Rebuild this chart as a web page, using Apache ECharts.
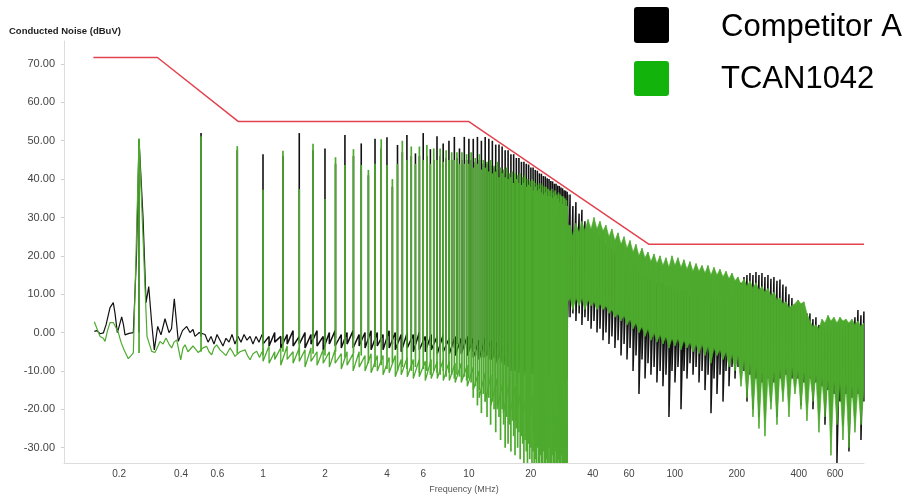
<!DOCTYPE html>
<html>
<head>
<meta charset="utf-8">
<script src="https://cdn.jsdelivr.net/npm/echarts@6/dist/echarts.min.js"></script>
<style>html,body{margin:0;padding:0;background:#fff}#c{width:908px;height:496px}</style>
</head>
<body>
<div id="c"></div>
<script>
// ---------- axis ticks ----------
const xTickValues = [0.2, 0.4, 0.6, 1, 2, 4, 6, 10, 20, 40, 60, 100, 200, 400, 600];
const yTickValues = [-30, -20, -10, 0, 10, 20, 30, 40, 50, 60, 70];

// ---------- limit line (red) ----------
const limitMHz = [0.15, 0.307, 0.76, 10, 75, 830];
const limitDb  = [71.7, 71.7, 55, 55, 23, 23];

// ---------- low-frequency noise floor (0.15 - 1 MHz) ----------
const compLowMHz = [0.1516,0.1562,0.1616,0.1677,0.1728,0.1807,0.1874,0.1911,0.1961,0.1998,
  0.2059,0.2101,0.2137,0.2235,0.2345,0.2430,0.25,0.2614,0.2703,0.2786,
  0.2874,0.2965,0.3080,0.3196,0.3342,0.3495,0.3594,0.3708,0.3878,0.4064,
  0.4260,0.4418,0.4571,0.4674,0.4905,0.523,0.541,0.559,0.578,0.598,
  0.618,0.639,0.661,0.684,0.707,0.731,0.756,0.782,0.809,0.836,
  0.865,0.894,0.925,0.956,0.989];
const compLowDb = [0.3,0.5,-0.3,-0.1,2,6.5,7.8,5,0,1.5,
  4.1,2,-0.6,-0.2,0,20,50.3,30,7.8,12,
  3,-4.5,1.6,-0.6,3.6,0,1,8.8,-2.3,0.5,
  1.6,0,0.8,-1,0,-0.5,-2.5,-1,-3,-0.5,
  -2,-3.5,-1.5,-2.5,-0.5,-3,-1,-2.5,-0.5,-2,
  -1,-3,-1,-2.5,-0.5];
const tcanLowMHz = [0.1516,0.1562,0.1616,0.1677,0.1709,0.1757,0.1807,0.1874,0.1921,0.1983,
  0.2043,0.2113,0.2217,0.2285,0.2345,0.2402,0.25,0.2733,0.2880,0.2988,
  0.3161,0.3268,0.3380,0.3495,0.3602,0.3696,0.3809,0.3984,0.4088,0.4180,
  0.4322,0.4418,0.4571,0.4674,0.4850,0.5112,0.5328,0.5467,0.5634,0.5781,
  0.5957,0.6183,0.6415,0.6612,0.6914,0.7110,0.7311,0.7730,0.8178,0.8408,
  0.8649,0.8941,0.9320,0.9616,0.9888];
const tcanLowDb = [2.8,1,-1,-1.5,-2.3,0.5,2.6,2.6,1.5,0,
  -2.5,-4.5,-6.8,-6,-5.3,15,50.5,-1,-4.9,-5.2,
  -2.3,-3,-1.4,-3,-4,-2.5,-1.9,-7.1,-4,-3.2,
  -5,-4.7,-3.5,-4,-5.2,-4,-3.6,-5,-5.8,-4,
  -3.2,-4.5,-5.3,-6,-4,-5,-6.2,-5,-4.5,-6,
  -7.1,-5.5,-4.9,-6.5,-5];

// ---------- harmonic spikes (250 kHz steps, n = 1..120) ----------
const harmonicMHz = [0.25,0.5,0.75,1,1.25,1.5,1.75,2,2.25,2.5,
  2.75,3,3.25,3.5,3.75,4,4.25,4.5,4.75,5,
  5.25,5.5,5.75,6,6.25,6.5,6.75,7,7.25,7.5,
  7.75,8,8.25,8.5,8.75,9,9.25,9.5,9.75,10,
  10.25,10.5,10.75,11,11.25,11.5,11.75,12,12.25,12.5,
  12.75,13,13.25,13.5,13.75,14,14.25,14.5,14.75,15,
  15.25,15.5,15.75,16,16.25,16.5,16.75,17,17.25,17.5,
  17.75,18,18.25,18.5,18.75,19,19.25,19.5,19.75,20,
  20.25,20.5,20.75,21,21.25,21.5,21.75,22,22.25,22.5,
  22.75,23,23.25,23.5,23.75,24,24.25,24.5,24.75,25,
  25.25,25.5,25.75,26,26.25,26.5,26.75,27,27.25,27.5,
  27.75,28,28.25,28.5,28.75,29,29.25,29.5,29.75,30];
const tcanPeak = [50.5,51.2,48.6,37.2,47.4,37.4,49.2,34.8,45.7,43.7,
  47.8,43.7,42.4,44,50.4,43.7,40,44,50,45,
  48.5,44,48.5,45,48.9,44,48,45,48,44.5,
  47.5,45,47,45,47,44,47,44,46.5,44,
  47,43,45.5,44,46.5,42.5,45,43,44.5,42,
  45,41.5,43.5,42,44.5,40.5,43,41.5,42.5,40.5,
  43,40,41.5,40.5,42,39,41.5,40,41,39,
  41.5,38.5,40.5,39,41,38,40,38.5,39.5,38,
  40,37,39.5,38,39,37,38.5,37.5,39,36.5,
  38.5,36,38,36.5,38,35.5,37.5,36,37,35.5,
  37.5,35,36.5,35.5,37,34.5,36,35,36.5,34,
  36,34.5,35.5,33.5,35.5,34,35,33,34.5,33];
const tcanBase = [-5.3,-5,-5.5,-6,-5,-6,-5.5,-6,-5,-6.5,
  -5.5,-6,-8,-9,-8.5,-9.5,-8,-10,-9,-9.5,
  -10,-9,-10.5,-9.5,-10,-11,-10,-10.5,-11,-10,
  -11.5,-10.5,-11,-12,-11,-11.5,-12,-11.5,-12.5,-12,
  -13,-17,-14,-19,-15,-21,-16,-18,-22,-17,
  -24,-18,-20,-26,-19,-22,-28,-20,-24,-30,
  -22,-29,-24,-31,-23,-27,-32,-25,-30,-26,
  -33,-27,-29,-34,-28,-31,-34,-29,-33,-30,
  -34,-31,-34,-33,-34,-30,-34,-34,-32,-34,
  -34,-31,-34,-34,-33,-34,-34,-30,-34,-34,
  -34,-32,-34,-34,-31,-34,-34,-34,-33,-34,
  -34,-34,-32,-34,-34,-34,-34,-34,-34,-34];
const compPeak = [50.3,52,47.5,46.5,46,52,47.5,48,44,51.5,
  46,49.3,41,50.5,48,50.9,38,48.9,47,51.5,
  46,46.7,46,52,46,47.8,45,51.2,46,49.3,
  45.5,50,45,51,45.5,48,45,51,45,50.5,
  45,50.5,44.5,51,45,50,44,51,44,50.5,
  43.5,50,43,49,42.5,49,42,48.5,41.5,47.5,
  41,47.5,40.5,46.5,40,46.5,39.5,45.5,39,45.5,
  38.5,44.5,38,44.5,37.5,44,37,43.8,36.5,43,
  36,43,35.5,42.4,35,42.2,34.5,41.5,34,41.4,
  34,40.8,33.5,40.7,33,40.2,33,40,32.5,39.5,
  32.5,39.4,32,38.8,32,38.8,31.5,38.3,31.5,38.2,
  31,37.8,31,37.6,30.5,37.1,30.5,37,30,36.7];
const compBase = [0,-1,-1.5,-1,-2,-1.5,-1,-2,-1.5,-2,
  -1.5,-2.5,-2,-1.5,-2.5,-2,-3,-2,-2.5,-3,
  -2,-3,-2.5,-3,-2,-3.5,-2.5,-3,-3.5,-2.5,
  -3,-3.5,-3,-4,-3,-3.5,-4,-3.5,-4,-4.5,
  -4,-5,-4.5,-6,-5,-5.5,-6.5,-5,-6,-7,
  -6,-7,-6.5,-8,-7,-6.5,-8,-7.5,-7,-8.5,
  -8,-9,-8.5,-10,-9,-8.5,-10,-9.5,-9,-10.5,
  -9,-10,-9.5,-11,-10,-9.5,-11,-10.5,-10,-11,
  -10,-11,-10.5,-12,-11,-10.5,-12,-11.5,-11,-12,
  -11,-12,-11.5,-12,-11,-12.5,-12,-11.5,-12,-12.5,
  -12,-12.5,-12,-13,-12,-12.5,-13,-12,-12.5,-13,
  -12,-13,-12.5,-13,-12,-13,-12.5,-13,-12,-12];

// ---------- noise bands (1 - 830 MHz): upper / lower edge ----------
const bandMHz = [1.00,1.07,1.14,1.22,1.31,1.40,1.50,1.60,1.71,1.83,
  1.96,2.10,2.24,2.40,2.56,2.74,2.93,3.13,3.35,3.59,
  3.83,4.10,4.39,4.69,5.02,5.37,5.74,6.14,6.56,7.02,
  7.51,8.03,8.58,9.18,9.82,10.5,11.2,12.0,12.8,13.7,
  14.7,15.7,16.8,18.0,19.2,20.5,22.0,23.5,25.1,26.9,
  28.7,30.0,30.2,
  31.0,32.0,33.1,34.3,35.4,36.6,37.9,39.2,40.5,41.9,
  43.3,44.8,46.3,47.9,49.5,51.2,53.0,54.8,56.7,58.6,
  60.6,62.7,64.8,67.0,69.3,71.7,74.1,76.6,79.3,81.9,
  84.8,87.6,90.6,93.7,96.9,100.2,103.6,107.2,110.8,114.6,
  118.5,122.6,126.8,131.1,135.6,140.2,145.0,149.9,155.0,160.3,
  165.8,171.5,177.3,183.4,189.6,196.1,202.8,209.7,216.8,224.2,
  231.9,239.8,248.0,256.4,265.2,274.2,283.6,293.2,303.2,313.6,
  324.3,335.3,346.8,358.6,370.8,383.5,396.6,410.1,424.1,438.5,
  453.5,469.0,485.0,501.5,518.6,536.3,554.6,573.5,593.1,613.3,
  634.2,655.9,678.3,701.4,725.4,750.1,775.7,802.2,829];
const tcanHi = [-4,-3.5,-5,-4,-3.5,-5,-4,-4.5,-4,-5,
  -4.5,-5,-4.5,-5.5,-5,-5.5,-5,-6,-5.5,-6,
  -6,-6.5,-6,-7,-6.5,-7,-7,-7.5,-7,-7.5,
  -7,-7.5,-8,-8,-8.5,-9,-10,-10.5,-11,-12,
  -12.5,-13,-14,-14.5,-15,-16,-16.5,-17,-18,-18,
  -18,-18,28,
  28,25,28.5,26,29,26.5,29.5,27,30,27,
  29,26.5,28,25,27,24,26,23,25,22,
  24,21,23,20,22,19.5,21,18.5,20.5,18,
  20,17.5,19.5,17,20,17.5,19.5,17,19,16.5,
  18.5,16,18,16,17.5,15.5,17.5,15,17,15,
  16.5,14.5,16,14,15.5,13.5,14.5,12.5,14,12,
  13.5,11.5,13,11,12,10.5,11.5,9.5,10.5,8.5,
  9,7.5,8,6.5,7,7.5,8.5,7.5,8,5,
  3,1.5,2,1,3.5,2.5,4.5,3,4,2.5,
  4,3,3.5,2.5,3.5,2,3,1.5,2.5];
const tcanLo = [-7.5,-8,-7,-8.5,-7,-8,-7.5,-9,-7.5,-8.5,
  -8,-9,-8,-9.5,-8.5,-10,-9,-10,-10.5,-10,
  -11,-10.5,-11.5,-11,-11.5,-12,-11.5,-12.5,-12,-12,
  -12.5,-12.5,-13,-13,-14,-15,-17,-18,-19,-20,
  -21,-22,-23,-24,-25,-26,-27,-28,-30,-34,
  -34,-34,8,
  9,6,9,7,9,6,8.5,7,8,6,
  7.5,6,7,5,6,4,5,3,4.5,2,
  3.5,1,2.5,0,1.5,-1,1,-2,0,-2.5,
  -0.5,-3,-1,-4,-1.5,-3.5,-1.5,-4.5,-2,-4,
  -2.5,-5,-3,-5.5,-3,-6,-3.5,-8,-4,-6,
  -4.5,-7,-5,-9,-5.5,-10,-6,-14,-7,-17,
  -8,-22,-9,-25,-10,-27,-11,-20,-10,-24,
  -9.5,-18,-9,-22,-9,-16,-10,-20,-10,-23,
  -11,-18,-11,-26,-12,-22,-12,-32,-12.5,-24,
  -13,-28,-13,-30,-14,-26,-14,-24,-15];
const compHi = [-0.5,-1,0,-1,-0.5,0.5,-1,0,-0.5,0.5,
  -1,0,0.5,-0.5,0,0.5,-0.5,0,0.5,0,
  -0.5,0.5,0,-0.5,0,-0.5,0,-1,-0.5,-1,
  -0.5,-1.5,-1,-1.5,-1,-1.5,-2,-1.5,-2,-2.5,
  -3,-3,-3.5,-4,-4,-5,-5,-5.5,-6,-6,
  -6,-6,36,
  36,33,34,31,32,29,28,27,26,25,
  25,24,23,22,22,21,20,19,19,18,
  17,17,16,16,15,15,14,14,14,13,
  13,13,12,12,12,12,11,11,11,11,
  10,10,10,10,10,10,9,9,9,9,
  9,9,9,9,9,9,10,13,14.5,15,
  15.5,15,15.8,15,15.5,14.5,15,14,14.5,13.5,
  13.8,12.5,12,10,9,7,6,6,5.5,5,
  5,3.5,4,2,1.5,1,2,1,2,1.5,
  2,1,2,2.5,3,4,5.9,4.5,5.5];
const compLo = [-3,-3.5,-2.5,-4,-3,-3.5,-3,-4,-3,-3.5,
  -4.5,-3,-3.5,-4,-3,-4,-3.5,-4,-4.5,-3.5,
  -4.5,-4,-4.5,-5,-4,-5,-4.5,-5,-4.5,-5.5,
  -5,-5.5,-6,-5.5,-6,-6.5,-7,-6.5,-7,-7.5,
  -8,-8,-9,-9,-10,-10,-11,-11,-12,-12,
  -12,-12,4,
  4,5,3,5,2,4,3,1,3,0,
  1,-2,0,-3,-1,-4,-2,-6,-3,-7,
  -4,-10,-6,-16,-7,-12,-8,-11,-9,-13,
  -10,-14,-11,-22,-10,-13,-9,-20,-10,-12,
  -8,-11,-9,-13,-10,-15,-11,-21,-12,-16,
  -11,-18,-10,-14,-9,-12,-9,-12,-10,-18,
  -11,-20,-12,-22,-13,-20,-12,-18,-13,-22,
  -12,-15,-11,-17,-12,-14,-12,-19,-13,-16,
  -12,-20,-13,-17,-14,-24,-15,-22,-16,-34,
  -18,-24,-16,-31,-17,-22,-16,-28,-18];

// ---------- colours ----------
const GREEN = '#4daa2e';
const BLACK = '#111111';
const RED = '#e2434f';
const FONT = '"Liberation Sans", Arial, sans-serif';

function zip(a, b) { return a.map((v, i) => [v, b[i]]); }

function floorSeries(name, f, v, color, z) {
  return { type: 'line', name, data: zip(f, v), showSymbol: false, symbol: 'none',
    lineStyle: { color, width: 1.2 }, itemStyle: { color }, silent: true, z };
}
// noise band drawn as a dense up/down trace between its upper and lower edge
function traceSeries(name, hi, lo, color, width, fromMHz, toMHz, z) {
  const data = [];
  bandMHz.forEach((f, i) => {
    if (f >= fromMHz && f <= toMHz) { data.push([f, hi[i]]); data.push([f, lo[i]]); }
  });
  return { type: 'line', name, data, showSymbol: false, symbol: 'none',
    lineStyle: { color, width }, itemStyle: { color }, silent: true, z };
}
function spikeSeries(name, peaks, bases, color, width, z) {
  const data = harmonicMHz.map((f, i) => [f, bases[i], peaks[i]]);
  return { type: 'custom', name, data, clip: true, silent: true, z,
    encode: { x: 0, y: [1, 2] },
    renderItem: (p, api) => {
      const a = api.coord([api.value(0), api.value(1)]);
      const b = api.coord([api.value(0), api.value(2)]);
      return { type: 'line', shape: { x1: a[0], y1: a[1], x2: b[0], y2: b[1] },
        style: { stroke: color, lineWidth: width } };
    } };
}
function bandSeries(name, hi, lo, color, fromMHz, z) {
  const data = [];
  for (let i = 0; i < bandMHz.length - 1; i++) {
    if (bandMHz[i] < fromMHz) continue;
    data.push([bandMHz[i], hi[i], lo[i], bandMHz[i + 1], hi[i + 1], lo[i + 1]]);
  }
  return { type: 'custom', name, data, clip: true, silent: true, z,
    encode: { x: [0, 3], y: [1, 2, 4, 5] },
    renderItem: (p, api) => {
      const p0 = api.coord([api.value(0), api.value(1)]);
      const p1 = api.coord([api.value(3), api.value(4)]);
      const p2 = api.coord([api.value(3), api.value(5)]);
      const p3 = api.coord([api.value(0), api.value(2)]);
      return { type: 'polygon', shape: { points: [p0, p1, p2, p3] },
        style: { fill: color, stroke: color, lineWidth: 0.6 } };
    } };
}

const chart = echarts.init(document.getElementById('c'), null, { renderer: 'canvas' });
chart.setOption({
  animation: false,
  backgroundColor: '#fff',
  textStyle: { fontFamily: FONT },
  title: { text: 'Conducted Noise (dBuV)', left: 9, top: 26, padding: 0,
    textStyle: { fontSize: 9.5, fontWeight: 'bold', color: '#222', fontFamily: FONT } },
  grid: { left: 64, right: 44, top: 41, bottom: 33, containLabel: false, outerBoundsMode: 'none' },
  xAxis: {
    type: 'log', logBase: 10, min: 0.108, max: 830,
    name: 'Frequency (MHz)', nameLocation: 'middle', nameGap: 22,
    nameTextStyle: { fontSize: 9, color: '#555', fontFamily: FONT },
    axisLine: { show: true, onZero: false, lineStyle: { color: '#dcdcdc', width: 1 } },
    axisTick: { show: false },
    minorTick: { show: false },
    splitLine: { show: false },
    axisLabel: { customValues: xTickValues, fontSize: 10, color: '#444', margin: 6,
      formatter: v => String(+Number(v).toPrecision(4)) }
  },
  yAxis: {
    type: 'value', min: -34, max: 76,
    axisLine: { show: true, onZero: false, lineStyle: { color: '#dcdcdc', width: 1 } },
    axisTick: { show: true, length: 3, customValues: yTickValues, lineStyle: { color: '#d0d0d0' } },
    splitLine: { show: false },
    axisLabel: { customValues: yTickValues, fontSize: 11, color: '#444', margin: 9,
      formatter: v => Number(v).toFixed(2) }
  },
  graphic: [
    { type: 'rect', shape: { x: 634, y: 7, width: 35, height: 36, r: 3 }, style: { fill: '#000' }, z: 10 },
    { type: 'text', style: { x: 721, y: 27, text: 'Competitor A', font: '31px ' + FONT, fill: '#000',
      align: 'left', verticalAlign: 'middle' }, z: 10 },
    { type: 'rect', shape: { x: 634, y: 61, width: 35, height: 35, r: 3 }, style: { fill: '#12b30a' }, z: 10 },
    { type: 'text', style: { x: 721, y: 79, text: 'TCAN1042', font: '31px ' + FONT, fill: '#000',
      align: 'left', verticalAlign: 'middle' }, z: 10 }
  ],
  series: [
    floorSeries('Competitor A', compLowMHz, compLowDb, BLACK, 1),
    traceSeries('Competitor A noise', compHi, compLo, BLACK, 1.5, 0, 1000, 1),
    spikeSeries('Competitor A harmonics', compPeak, compBase, BLACK, 1.6, 1),
    floorSeries('TCAN1042', tcanLowMHz, tcanLowDb, GREEN, 3),
    traceSeries('TCAN1042 noise', tcanHi, tcanLo, GREEN, 1.3, 0, 30.05, 3),
    bandSeries('TCAN1042 band', tcanHi, tcanLo, GREEN, 30.1, 3),
    spikeSeries('TCAN1042 harmonics', tcanPeak, tcanBase, GREEN, 1.7, 3),
    { type: 'line', name: 'Limit', data: zip(limitMHz, limitDb), showSymbol: false, symbol: 'none',
      lineStyle: { color: RED, width: 1.5 }, silent: true, z: 5 }
  ]
});
</script>
</body>
</html>
